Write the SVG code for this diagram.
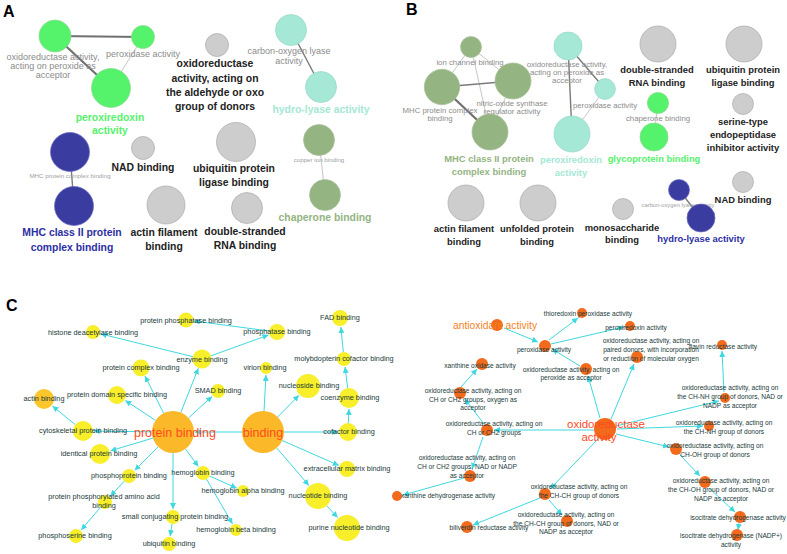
<svg xmlns="http://www.w3.org/2000/svg" width="787" height="554" viewBox="0 0 787 554">
<style>
.pl{font-family:"Liberation Sans",Arial,sans-serif;font-weight:bold;font-size:16px;fill:#000}
.bA{font-family:"Liberation Sans",Arial,sans-serif;font-weight:bold;font-size:10.4px;fill:#222;text-anchor:middle}
.bB{font-family:"Liberation Sans",Arial,sans-serif;font-weight:bold;font-size:9.4px;fill:#222;text-anchor:middle}
.gA{font-family:"Liberation Sans",Arial,sans-serif;font-size:9px;fill:#8c8c8c;text-anchor:middle}
.gB{font-family:"Liberation Sans",Arial,sans-serif;font-size:7.8px;fill:#8c8c8c;text-anchor:middle}
.tA{font-family:"Liberation Sans",Arial,sans-serif;font-size:6.2px;fill:#a0a0a0;text-anchor:middle}
.tB{font-family:"Liberation Sans",Arial,sans-serif;font-size:5.8px;fill:#a0a0a0;text-anchor:middle}
.grey{fill:#cdcdcd;stroke:#aaa;stroke-width:0.7}
.green{fill:#55f26c;stroke:#8cd890;stroke-width:0.7}
.sage{fill:#94b482;stroke:#a8bf9a;stroke-width:0.7}
.teal{fill:#a4e8d5;stroke:#9ad6c6;stroke-width:0.7}
.blue{fill:#3a3ca0;stroke:#6a6cc0;stroke-width:0.7}
.eThick{stroke:#707070;stroke-width:2.2;fill:none}
.eMed{stroke:#7a7a7a;stroke-width:1.4;fill:none}
.eThin{stroke:#c0c0c0;stroke-width:0.9;fill:none}
.cl{font-family:"Liberation Sans",Arial,sans-serif;font-size:7.3px;fill:#203a3a;text-anchor:middle}
.cr{font-family:"Liberation Sans",Arial,sans-serif;font-size:6.6px;fill:#203a3a;text-anchor:middle}
.hub{font-family:"Liberation Sans",Arial,sans-serif;font-size:12.5px;fill:#ff4a1e;text-anchor:middle}
.hub2{font-family:"Liberation Sans",Arial,sans-serif;font-size:11.5px;fill:#ff4a1e;text-anchor:middle}
.y{fill:#f8ee2a}
.gold{fill:#fbb829}
.gy{fill:#fcc62c}
.or{fill:#f26a1c}
.ce{stroke:#3fd8e0;stroke-width:1;fill:none;marker-end:url(#ar)}
</style>
<defs>
<marker id="ar" viewBox="0 0 10 10" refX="10" refY="5" markerWidth="6" markerHeight="6" orient="auto" markerUnits="userSpaceOnUse">
<path d="M0,0 L10,5 L0,10 z" fill="#3fd8e0"/>
</marker>
</defs>
<rect width="787" height="554" fill="#fff"/>

<!-- Panel labels -->
<text class="pl" x="3" y="17">A</text>
<text class="pl" x="406" y="15">B</text>
<text class="pl" x="6" y="311">C</text>

<!-- Panel A connectors -->
<g id="edgesA">
<line class="eThick" x1="55" y1="36" x2="143" y2="37"/>
<line class="eThick" x1="55" y1="36" x2="111" y2="88"/>
<line class="eThin" x1="143" y1="37" x2="111" y2="88"/>
<line class="eMed" x1="291" y1="30" x2="321" y2="87"/>
<line class="eMed" x1="70" y1="152" x2="74" y2="206"/>
<line class="eThin" x1="319" y1="140" x2="325" y2="195"/>
</g>

<g id="A-oxperox"><circle class="green" cx="55" cy="36" r="16"/><text class="gA" x="53" y="60">oxidoreductase activity,</text><text class="gA" x="53" y="69">acting on peroxide as</text><text class="gA" x="53" y="78">acceptor</text></g>
<g id="A-peroxidase"><circle class="green" cx="143" cy="37" r="11.5"/><text class="gA" x="143" y="57">peroxidase activity</text></g>
<g id="A-peroxiredoxin"><circle class="green" cx="111" cy="88" r="19.5"/><text class="bA" x="110" y="121" style="fill:#55f26c">peroxiredoxin</text><text class="bA" x="110" y="134" style="fill:#55f26c">activity</text></g>
<g id="A-aldehyde"><circle class="grey" cx="217" cy="45" r="11.5"/><text class="bA" x="215" y="67">oxidoreductase</text><text class="bA" x="215" y="82">activity, acting on</text><text class="bA" x="215" y="96">the aldehyde or oxo</text><text class="bA" x="215" y="110">group of donors</text></g>
<g id="A-carbonoxygen"><circle class="teal" cx="291" cy="30" r="15.5"/><text class="gA" x="289" y="54">carbon-oxygen lyase</text><text class="gA" x="289" y="64">activity</text></g>
<g id="A-hydrolyase"><circle class="teal" cx="321" cy="87" r="15.5"/><text class="bA" x="321" y="113" style="fill:#a4e8d5">hydro-lyase activity</text></g>
<g id="A-mhcpc"><circle class="blue" cx="70" cy="152" r="19.5"/><text class="tA" x="70" y="178">MHC protein complex binding</text></g>
<g id="A-mhcII"><circle class="blue" cx="74" cy="206" r="19.5"/><text class="bA" x="72" y="236" style="fill:#2c2ea3">MHC class II protein</text><text class="bA" x="72" y="251" style="fill:#2c2ea3">complex binding</text></g>
<g id="A-nad"><circle class="grey" cx="143" cy="148" r="11.5"/><text class="bA" x="143" y="171">NAD binding</text></g>
<g id="A-actin"><circle class="grey" cx="166" cy="205" r="19"/><text class="bA" x="164" y="236">actin filament</text><text class="bA" x="164" y="250">binding</text></g>
<g id="A-ubiq"><circle class="grey" cx="236" cy="142" r="19.5"/><text class="bA" x="234" y="172">ubiquitin protein</text><text class="bA" x="234" y="186">ligase binding</text></g>
<g id="A-dsrna"><circle class="grey" cx="247" cy="208" r="15.5"/><text class="bA" x="245" y="235">double-stranded</text><text class="bA" x="245" y="249">RNA binding</text></g>
<g id="A-copper"><circle class="sage" cx="319" cy="140" r="15.5"/><text class="tA" x="319" y="162">copper ion binding</text></g>
<g id="A-chaperone"><circle class="sage" cx="325" cy="195" r="15.5"/><text class="bA" x="325" y="221" style="fill:#94b482">chaperone binding</text></g>

<!-- Panel B connectors -->
<g id="edgesB">
<line class="eThin" x1="471" y1="47" x2="442" y2="87"/>
<line class="eThin" x1="471" y1="47" x2="513" y2="81"/>
<line class="eThin" x1="471" y1="47" x2="490" y2="132"/>
<line class="eMed" x1="442" y1="87" x2="513" y2="81"/>
<line class="eThick" x1="442" y1="87" x2="490" y2="132"/>
<line class="eThin" x1="513" y1="81" x2="490" y2="132"/>
<line class="eMed" x1="568" y1="46" x2="572" y2="134"/>
<line class="eMed" x1="568" y1="46" x2="605" y2="89"/>
<line class="eThin" x1="605" y1="89" x2="572" y2="134"/>
<line class="eThin" x1="658" y1="103" x2="654" y2="137"/>
<line class="eMed" x1="679" y1="190" x2="701" y2="218"/>
</g>

<g id="B-ion"><circle class="sage" cx="471" cy="47" r="10.5"/><text class="gB" x="470" y="65">ion channel binding</text></g>
<g id="B-mhcpc"><circle class="sage" cx="442" cy="87" r="17.7"/><text class="gB" x="440" y="113">MHC protein complex</text><text class="gB" x="440" y="121">binding</text></g>
<g id="B-nitric"><circle class="sage" cx="513" cy="81" r="18"/><text class="gB" x="512" y="106">nitric-oxide synthase</text><text class="gB" x="512" y="114">regulator activity</text></g>
<g id="B-mhcII"><circle class="sage" cx="490" cy="132" r="18"/><text class="bB" x="489" y="162" style="fill:#94b482">MHC class II protein</text><text class="bB" x="489" y="175" style="fill:#94b482">complex binding</text></g>
<g id="B-oxperox"><circle class="teal" cx="568" cy="46" r="14"/><text class="gB" x="567" y="67">oxidoreductase activity,</text><text class="gB" x="567" y="75">acting on peroxide as</text><text class="gB" x="567" y="83">acceptor</text></g>
<g id="B-peroxidase"><circle class="teal" cx="605" cy="89" r="10.4"/><text class="gB" x="605" y="108">peroxidase activity</text></g>
<g id="B-peroxiredoxin"><circle class="teal" cx="572" cy="134" r="18"/><text class="bB" x="571" y="163" style="fill:#a4e8d5">peroxiredoxin</text><text class="bB" x="571" y="176" style="fill:#a4e8d5">activity</text></g>
<g id="B-dsrna"><circle class="grey" cx="658" cy="44" r="18"/><text class="bB" x="657" y="73">double-stranded</text><text class="bB" x="657" y="86">RNA binding</text></g>
<g id="B-ubiq"><circle class="grey" cx="744" cy="44" r="18"/><text class="bB" x="743" y="73">ubiquitin protein</text><text class="bB" x="743" y="86">ligase binding</text></g>
<g id="B-chaperone"><circle class="green" cx="658" cy="103" r="10.6"/><text class="gB" x="658" y="121">chaperone binding</text></g>
<g id="B-glyco"><circle class="green" cx="654" cy="137" r="14"/><text class="bB" x="654" y="162" style="fill:#55f26c">glycoprotein binding</text></g>
<g id="B-serine"><circle class="grey" cx="743" cy="104" r="10.5"/><text class="bB" x="743" y="125">serine-type</text><text class="bB" x="743" y="138">endopeptidase</text><text class="bB" x="743" y="151">inhibitor activity</text></g>
<g id="B-nad"><circle class="grey" cx="743" cy="182" r="10.5"/><text class="bB" x="743" y="203">NAD binding</text></g>
<g id="B-carbonoxygen"><circle class="blue" cx="679" cy="190" r="10.5"/><text class="tB" x="678" y="207">carbon-oxygen lyase activity</text></g>
<g id="B-hydrolyase"><circle class="blue" cx="701" cy="218" r="14"/><text class="bB" x="701" y="242" style="fill:#2c2ea3">hydro-lyase activity</text></g>
<g id="B-mono"><circle class="grey" cx="623" cy="209" r="10.5"/><text class="bB" x="622" y="231">monosaccharide</text><text class="bB" x="622" y="243">binding</text></g>
<g id="B-actin"><circle class="grey" cx="466" cy="203" r="18"/><text class="bB" x="464" y="232">actin filament</text><text class="bB" x="464" y="245">binding</text></g>
<g id="B-unfolded"><circle class="grey" cx="538" cy="203" r="18"/><text class="bB" x="537" y="232">unfolded protein</text><text class="bB" x="537" y="245">binding</text></g>

<!-- Panel C connectors -->
<g id="edgesC">
<line class="ce" x1="163.6" y1="413.2" x2="145" y2="376"/>
<line class="ce" x1="155.5" y1="420.4" x2="125.3" y2="400.5"/>
<line class="ce" x1="152" y1="431.8" x2="94" y2="431.1"/>
<line class="ce" x1="75.3" y1="424.7" x2="52.5" y2="406"/>
<line class="ce" x1="152.9" y1="438.1" x2="110.5" y2="450.8"/>
<line class="ce" x1="158.1" y1="446.9" x2="134.7" y2="470.3"/>
<line class="ce" x1="124.3" y1="481.1" x2="110.4" y2="496.1"/>
<line class="ce" x1="100.5" y1="507.3" x2="81.2" y2="529.9"/>
<line class="ce" x1="173" y1="453" x2="173" y2="509"/>
<line class="ce" x1="172" y1="524" x2="170.2" y2="536.1"/>
<line class="ce" x1="185.4" y1="448.9" x2="198.3" y2="466.5"/>
<line class="ce" x1="209.4" y1="475.9" x2="236.6" y2="488.1"/>
<line class="ce" x1="206.5" y1="479.1" x2="232.5" y2="523.9"/>
<line class="ce" x1="188.5" y1="417.9" x2="212.1" y2="396.4"/>
<line class="ce" x1="180.8" y1="412.5" x2="198.3" y2="368.3"/>
<line class="ce" x1="193.3" y1="356.8" x2="100.8" y2="333.9"/>
<line class="ce" x1="210.5" y1="356" x2="268.5" y2="335"/>
<line class="ce" x1="269.1" y1="331" x2="193.9" y2="321"/>
<line class="ce" x1="242" y1="432" x2="195" y2="432"/>
<line class="ce" x1="264" y1="411" x2="266" y2="375"/>
<line class="ce" x1="277.7" y1="417" x2="298.9" y2="395.3"/>
<line class="ce" x1="284" y1="432" x2="338" y2="432"/>
<line class="ce" x1="348.3" y1="423" x2="349" y2="409"/>
<line class="ce" x1="347.7" y1="388.1" x2="345" y2="367"/>
<line class="ce" x1="343.3" y1="352" x2="340.9" y2="327"/>
<line class="ce" x1="282.2" y1="440.5" x2="338.8" y2="465.4"/>
<line class="ce" x1="276.7" y1="447.9" x2="308.9" y2="485.4"/>
<line class="ce" x1="326.7" y1="505.6" x2="337.6" y2="517.6"/>
<!-- right network -->
<line class="ce" x1="600" y1="418" x2="588" y2="376"/>
<line class="ce" x1="580" y1="366" x2="552" y2="349"/>
<line class="ce" x1="504" y1="328" x2="538" y2="342"/>
<line class="ce" x1="549" y1="340" x2="578" y2="318"/>
<line class="ce" x1="551" y1="344" x2="624" y2="327"/>
<line class="ce" x1="611" y1="419" x2="634" y2="364"/>
<line class="ce" x1="616" y1="426" x2="719" y2="401"/>
<line class="ce" x1="617" y1="429" x2="703" y2="426"/>
<line class="ce" x1="616" y1="434" x2="669" y2="447"/>
<line class="ce" x1="724" y1="392" x2="722" y2="351"/>
<line class="ce" x1="680" y1="455" x2="700" y2="476"/>
<line class="ce" x1="709" y1="488" x2="735" y2="512"/>
<line class="ce" x1="739" y1="523" x2="738" y2="530"/>
<line class="ce" x1="594" y1="430" x2="494" y2="430"/>
<line class="ce" x1="484" y1="424" x2="465" y2="399"/>
<line class="ce" x1="461" y1="387" x2="477" y2="369"/>
<line class="ce" x1="483" y1="437" x2="472" y2="469"/>
<line class="ce" x1="464" y1="478" x2="403" y2="495"/>
<line class="ce" x1="598" y1="439" x2="550" y2="489"/>
<line class="ce" x1="540" y1="498" x2="473" y2="525"/>
<line class="ce" x1="549" y1="500" x2="562" y2="515"/>
</g>

<g id="C-protein-binding"><circle class="gold" cx="173" cy="432" r="21"/><text class="hub" x="175" y="437">protein binding</text></g>
<g id="C-binding"><circle class="gold" cx="263" cy="432" r="21"/><text class="hub" x="263" y="437">binding</text></g>
<g id="C-histone"><circle class="y" cx="93" cy="332" r="7"/><text class="cl" x="93" y="335">histone deacetylase binding</text></g>
<g id="C-protphosphatase"><circle class="y" cx="186" cy="320" r="7.5"/><text class="cl" x="186" y="323">protein phosphatase binding</text></g>
<g id="C-enzyme"><circle class="y" cx="202" cy="359" r="9.5"/><text class="cl" x="202" y="362">enzyme binding</text></g>
<g id="C-protcomplex"><circle class="y" cx="141" cy="368" r="8.5"/><text class="cl" x="141" y="370">protein complex binding</text></g>
<g id="C-protdomain"><circle class="y" cx="117" cy="395" r="9"/><text class="cl" x="117" y="397">protein domain specific binding</text></g>
<g id="C-actin"><circle class="gy" cx="44" cy="399" r="10"/><text class="cl" x="44" y="401">actin binding</text></g>
<g id="C-phosphatase"><circle class="y" cx="277" cy="332" r="8"/><text class="cl" x="277" y="334">phosphatase binding</text></g>
<g id="C-smad"><circle class="y" cx="218" cy="391" r="7"/><text class="cl" x="218" y="393">SMAD binding</text></g>
<g id="C-virion"><circle class="y" cx="266" cy="368" r="6"/><text class="cl" x="265" y="370">virion binding</text></g>
<g id="C-nucleoside"><circle class="y" cx="308" cy="386" r="12"/><text class="cl" x="309" y="388">nucleoside binding</text></g>
<g id="C-fad"><circle class="y" cx="340" cy="318" r="8"/><text class="cl" x="340" y="320">FAD binding</text></g>
<g id="C-molyb"><circle class="y" cx="344" cy="359" r="7"/><text class="cl" x="344" y="361">molybdopterin cofactor binding</text></g>
<g id="C-coenzyme"><circle class="y" cx="349" cy="398" r="10"/><text class="cl" x="350" y="400">coenzyme binding</text></g>
<g id="C-cofactor"><circle class="y" cx="348" cy="432" r="9"/><text class="cl" x="349" y="434">cofactor binding</text></g>
<g id="C-cytoskeletal"><circle class="y" cx="83" cy="431" r="10"/><text class="cl" x="83" y="433">cytoskeletal protein binding</text></g>
<g id="C-identical"><circle class="y" cx="100" cy="454" r="10"/><text class="cl" x="99" y="456">identical protein binding</text></g>
<g id="C-phosphoprotein"><circle class="y" cx="129" cy="476" r="7"/><text class="cl" x="129" y="478">phosphoprotein binding</text></g>
<g id="C-phosphorylated"><circle class="y" cx="105" cy="502" r="7"/><text class="cl" x="104" y="499">protein phosphorylated amino acid</text><text class="cl" x="104" y="508">binding</text></g>
<g id="C-phosphoserine"><circle class="y" cx="76" cy="536" r="7"/><text class="cl" x="75" y="538">phosphoserine binding</text></g>
<g id="C-smallconj"><circle class="y" cx="173" cy="517" r="7"/><text class="cl" x="175" y="519">small conjugating protein binding</text></g>
<g id="C-ubiquitin"><circle class="y" cx="169" cy="544" r="7"/><text class="cl" x="169" y="546">ubiquitin binding</text></g>
<g id="C-hemoglobin"><circle class="y" cx="203" cy="473" r="7"/><text class="cl" x="203" y="475">hemoglobin binding</text></g>
<g id="C-hemalpha"><circle class="y" cx="243" cy="491" r="6"/><text class="cl" x="243" y="493">hemoglobin alpha binding</text></g>
<g id="C-hembeta"><circle class="y" cx="236" cy="530" r="6"/><text class="cl" x="236" y="532">hemoglobin beta binding</text></g>
<g id="C-ecm"><circle class="y" cx="347" cy="469" r="8"/><text class="cl" x="347" y="471">extracellular matrix binding</text></g>
<g id="C-nucleotide"><circle class="y" cx="318" cy="496" r="13"/><text class="cl" x="318" y="498">nucleotide binding</text></g>
<g id="C-purine"><circle class="y" cx="347" cy="528" r="13"/><text class="cl" x="349" y="530">purine nucleotide binding</text></g>

<!-- right network nodes -->
<g id="C-oxred"><circle class="or" cx="605" cy="429" r="11"/><text class="hub2" x="606" y="428">oxidoreductase</text><text class="hub2" x="599" y="441">activity</text></g>
<g id="C-antiox"><circle class="or" cx="497" cy="325" r="6"/><text class="hub2" x="495" y="329" style="fill:#f4821f;font-size:10.3px">antioxidant activity</text></g>
<g id="C-thioredoxin"><circle class="or" cx="582" cy="313" r="5"/><text class="cr" x="588" y="316">thioredoxin peroxidase activity</text></g>
<g id="C-peroxiredoxin"><circle class="or" cx="630" cy="326" r="5"/><text class="cr" x="636" y="330">peroxiredoxin activity</text></g>
<g id="C-peroxidase"><circle class="or" cx="545" cy="346" r="6"/><text class="cr" x="544" y="352">peroxidase activity</text></g>
<g id="C-xanthox"><circle class="or" cx="482" cy="364" r="6"/><text class="cr" x="480" y="368">xanthine oxidase activity</text></g>
<g id="C-peroxacc"><circle class="or" cx="586" cy="369" r="6"/><text class="cr" x="571" y="372">oxidoreductase activity, acting on</text><text class="cr" x="571" y="380">peroxide as acceptor</text></g>
<g id="C-paired"><circle class="or" cx="637" cy="357" r="6"/><text class="cr" x="651" y="343">oxidoreductase activity, acting on</text><text class="cr" x="651" y="352">paired donors, with incorporation</text><text class="cr" x="651" y="361">or reduction of molecular oxygen</text></g>
<g id="C-flavin"><circle class="or" cx="722" cy="345" r="5"/><text class="cr" x="723" y="349">flavin reductase activity</text></g>
<g id="C-ch2oxy"><circle class="or" cx="460" cy="393" r="6"/><text class="cr" x="473" y="393">oxidoreductase activity, acting on</text><text class="cr" x="473" y="402">CH or CH2 groups, oxygen as</text><text class="cr" x="473" y="410">acceptor</text></g>
<g id="C-chnhnad"><circle class="or" cx="725" cy="398" r="5"/><text class="cr" x="730" y="390">oxidoreductase activity, acting on</text><text class="cr" x="730" y="399">the CH-NH group of donors, NAD or</text><text class="cr" x="730" y="408">NADP as acceptor</text></g>
<g id="C-ch2"><circle class="or" cx="487" cy="430" r="6"/><text class="cr" x="494" y="426">oxidoreductase activity, acting on</text><text class="cr" x="494" y="435">CH or CH2 groups</text></g>
<g id="C-chnh"><circle class="or" cx="709" cy="426" r="5"/><text class="cr" x="724" y="425">oxidoreductase activity, acting on</text><text class="cr" x="724" y="434">the CH-NH group of donors</text></g>
<g id="C-choh"><circle class="or" cx="676" cy="449" r="6"/><text class="cr" x="715" y="448">oxidoreductase activity, acting on</text><text class="cr" x="715" y="457">CH-OH group of donors</text></g>
<g id="C-ch2nad"><circle class="or" cx="470" cy="476" r="6"/><text class="cr" x="467" y="460">oxidoreductase activity, acting on</text><text class="cr" x="467" y="469">CH or CH2 groups, NAD or NADP</text><text class="cr" x="467" y="478">as acceptor</text></g>
<g id="C-xanthdeh"><circle class="or" cx="397" cy="496" r="5"/><text class="cr" x="448" y="498">xanthine dehydrogenase activity</text></g>
<g id="C-chch"><circle class="or" cx="545" cy="494" r="6"/><text class="cr" x="579" y="489">oxidoreductase activity, acting on</text><text class="cr" x="579" y="498">the CH-CH group of donors</text></g>
<g id="C-chohnad"><circle class="or" cx="705" cy="482" r="6"/><text class="cr" x="721" y="483">oxidoreductase activity, acting on</text><text class="cr" x="721" y="492">the CH-OH group of donors, NAD or</text><text class="cr" x="721" y="501">NADP as acceptor</text></g>
<g id="C-isocitrate"><circle class="or" cx="740" cy="517" r="6"/><text class="cr" x="738" y="520">isocitrate dehydrogenase activity</text></g>
<g id="C-biliverdin"><circle class="or" cx="467" cy="527" r="6"/><text class="cr" x="489" y="530">biliverdin reductase activity</text></g>
<g id="C-chchnad"><circle class="or" cx="567" cy="521" r="6"/><text class="cr" x="566" y="517">oxidoreductase activity, acting on</text><text class="cr" x="566" y="526">the CH-CH group of donors, NAD or</text><text class="cr" x="566" y="534">NADP as acceptor</text></g>
<g id="C-isocitrateNADP"><circle class="or" cx="737" cy="535" r="6"/><text class="cr" x="731" y="538">isocitrate dehydrogenase (NADP+)</text><text class="cr" x="731" y="547">activity</text></g>
</svg>
